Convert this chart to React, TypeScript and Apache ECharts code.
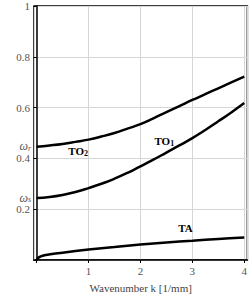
import React, { useEffect, useRef } from "react";
import * as echarts from "echarts";

const kGrid = [0, 0.25, 0.5, 0.75, 1, 1.25, 1.5, 1.75, 2, 2.25, 2.5, 2.75, 3, 3.25, 3.5, 3.75, 4];
const to2 = [0.446, 0.451, 0.457, 0.465, 0.474, 0.486, 0.5, 0.517, 0.535, 0.558, 0.582, 0.606, 0.63, 0.653, 0.676, 0.699, 0.722];
const to1 = [0.244, 0.248, 0.256, 0.268, 0.283, 0.3, 0.32, 0.343, 0.369, 0.395, 0.423, 0.451, 0.48, 0.512, 0.546, 0.581, 0.618];
const taK = [0, 0.03, 0.08, 0.15, 0.3, 0.5, 1, 1.5, 2, 2.5, 3, 3.5, 4];
const taW = [0, 0.008, 0.014, 0.019, 0.024, 0.029, 0.041, 0.051, 0.061, 0.069, 0.076, 0.083, 0.089];
const yTicks = [0.2, 0.4, 0.6, 0.8, 1];
const xTicks = [1, 2, 3, 4];
const omegaR = 0.447;
const omegaS = 0.246;
const curveLabels = [
  { text: "TO{sub|2}", k: 0.8, w: 0.431 },
  { text: "TO{sub|1}", k: 2.46, w: 0.47 },
  { text: "TA", k: 2.87, w: 0.125 },
];

const X_MIN = -0.05;
const X_MAX = 4.06;
const SERIF = "'Liberation Serif', 'DejaVu Serif', serif";

export default function App() {
  const ref = useRef<HTMLDivElement>(null);
  useEffect(() => {
    document.body.style.margin = "0";
    const chart = echarts.init(ref.current!, null, { renderer: "svg" });
    const lineStyle = { color: "#000", width: 2.5 };
    const rich = {
      sub: { fontSize: 8, fontFamily: SERIF, fontWeight: "bold", color: "#000", verticalAlign: "bottom", padding: [6, 0, 0, 0] },
      it: { fontSize: 12, lineHeight: 10, fontFamily: SERIF, fontStyle: "italic", color: "#555" },
      s: { fontSize: 8, lineHeight: 10, fontFamily: SERIF, fontStyle: "italic", color: "#555", padding: [4, 0, 0, 0] },
    };
    chart.setOption({
      animation: false,
      grid: { left: 34, top: 6, right: 1, bottom: 34, show: true, borderColor: "#000", borderWidth: 1.5 },
      xAxis: {
        type: "value",
        min: X_MIN,
        max: X_MAX,
        minInterval: 1,
        maxInterval: 1,
        name: "Wavenumber k [1/mm]",
        nameLocation: "middle",
        nameGap: 22,
        nameTextStyle: { fontFamily: SERIF, fontSize: 11, color: "#444" },
        axisLine: { lineStyle: { color: "#000", width: 1.5 } },
        axisTick: { show: true, length: 3, lineStyle: { color: "#000" } },
        axisLabel: {
          showMinLabel: false,
          showMaxLabel: false,
          margin: 5,
          fontFamily: SERIF,
          fontSize: 11,
          color: "#555",
          formatter: (v: number) => (xTicks.includes(v) ? String(v) : ""),
        },
        splitLine: { show: true, lineStyle: { color: "#d6d6d6", width: 1 } },
      },
      yAxis: {
        type: "value",
        min: 0,
        max: 1,
        interval: 0.2,
        axisLine: { lineStyle: { color: "#000", width: 1.5 } },
        axisTick: { show: true, length: 3, lineStyle: { color: "#000" } },
        axisLabel: {
          margin: 4,
          fontFamily: SERIF,
          fontSize: 11,
          lineHeight: 11,
          color: "#555",
          formatter: (v: number) => {
            const m = yTicks.find((t) => Math.abs(t - v) < 1e-6);
            return m === undefined ? "" : String(Math.round(m * 10) / 10);
          },
        },
        splitLine: { show: true, lineStyle: { color: "#d6d6d6", width: 1 } },
      },
      series: [
        {
          type: "line",
          data: kGrid.map((k, i) => [k, to2[i]]),
          smooth: 0.5,
          showSymbol: false,
          lineStyle,
          markPoint: {
            symbol: "circle",
            symbolSize: 0,
            data: [
              ...curveLabels.map((c) => ({
                coord: [c.k, c.w],
                label: {
                  show: true,
                  position: "inside",
                  formatter: c.text,
                  fontFamily: SERIF,
                  fontSize: 11,
                  fontWeight: "bold",
                  color: "#000",
                  rich,
                },
              })),
              {
                coord: [X_MIN, omegaR],
                label: { show: true, position: "left", distance: 3, formatter: "{it|ω}{s|r}", rich },
              },
              {
                coord: [X_MIN, omegaS],
                label: { show: true, position: "left", distance: 3, formatter: "{it|ω}{s|s}", rich },
              },
            ],
          },
        },
        {
          type: "line",
          data: kGrid.map((k, i) => [k, to1[i]]),
          smooth: 0.5,
          showSymbol: false,
          lineStyle,
        },
        {
          type: "line",
          data: taK.map((k, i) => [k, taW[i]]),
          smooth: 0.3,
          showSymbol: false,
          lineStyle,
        },
      ],
    });
    return () => chart.dispose();
  }, []);
  return <div ref={ref} style={{ width: 250, height: 298 }} />;
}
